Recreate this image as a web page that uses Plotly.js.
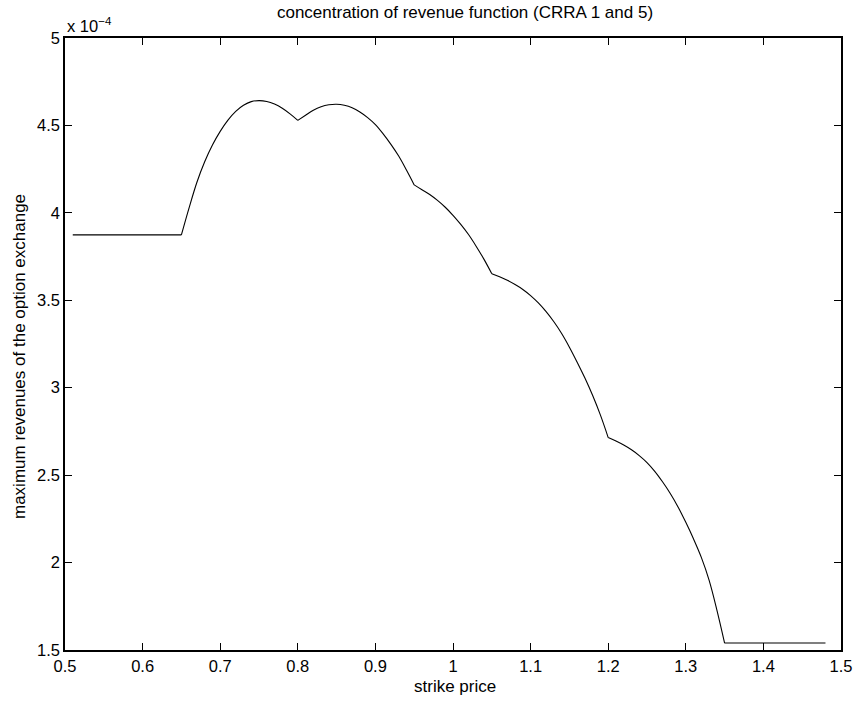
<!DOCTYPE html>
<html>
<head>
<meta charset="utf-8">
<script src="https://cdn.plot.ly/plotly-3.0.1.min.js"></script>
<style>html,body{margin:0;padding:0;background:#fff;}#chart{width:857px;height:701px;}</style>
</head>
<body>
<div id="chart"></div>
<script>
// strike price
const strikePrice = [
  0.51, 0.52, 0.53, 0.54, 0.55, 0.56, 0.57, 0.58, 0.59, 0.60,
  0.61, 0.62, 0.63, 0.64, 0.65, 0.66, 0.67, 0.68, 0.69, 0.70,
  0.71, 0.72, 0.73, 0.74, 0.75, 0.76, 0.77, 0.78, 0.79, 0.80,
  0.81, 0.82, 0.83, 0.84, 0.85, 0.86, 0.87, 0.88, 0.89, 0.90,
  0.91, 0.92, 0.93, 0.94, 0.95, 0.96, 0.97, 0.98, 0.99, 1.00,
  1.01, 1.02, 1.03, 1.04, 1.05, 1.06, 1.07, 1.08, 1.09, 1.10,
  1.11, 1.12, 1.13, 1.14, 1.15, 1.16, 1.17, 1.18, 1.19, 1.20,
  1.21, 1.22, 1.23, 1.24, 1.25, 1.26, 1.27, 1.28, 1.29, 1.30,
  1.31, 1.32, 1.33, 1.34, 1.35, 1.36, 1.37, 1.38, 1.39, 1.40,
  1.41, 1.42, 1.43, 1.44, 1.45, 1.46, 1.47, 1.48
];
// maximum revenues of the option exchange, in units of 1e-4
const maxRevenue = [
  3.874, 3.874, 3.874, 3.874, 3.874, 3.874, 3.874, 3.874, 3.874, 3.874,
  3.874, 3.874, 3.874, 3.874, 3.874, 4.030, 4.175, 4.292, 4.388, 4.466,
  4.530, 4.580, 4.615, 4.636, 4.642, 4.637, 4.622, 4.598, 4.566, 4.529,
  4.558, 4.587, 4.607, 4.618, 4.621, 4.615, 4.601, 4.577, 4.545, 4.505,
  4.452, 4.392, 4.325, 4.245, 4.160, 4.132, 4.105, 4.071, 4.032, 3.986,
  3.934, 3.876, 3.808, 3.734, 3.652, 3.634, 3.614, 3.590, 3.562, 3.527,
  3.485, 3.435, 3.377, 3.310, 3.232, 3.146, 3.055, 2.955, 2.843, 2.715,
  2.695, 2.672, 2.645, 2.612, 2.572, 2.522, 2.462, 2.395, 2.318, 2.230,
  2.135, 2.030, 1.900, 1.730, 1.540, 1.540, 1.540, 1.540, 1.540, 1.540,
  1.540, 1.540, 1.540, 1.540, 1.540, 1.540, 1.540, 1.540
];
// strike prices where the revenue function has a kink
const kinkPrices = [0.65, 0.80, 0.95, 1.05, 1.20, 1.35];

const titleText = 'concentration of revenue function (CRRA 1 and 5)';
const xTitle = 'strike price';
const yTitle = 'maximum revenues of the option exchange';
const exponentLabel = 'x 10<sup>\u22124</sup>';

const font = 'Liberation Sans, Arial, Helvetica, sans-serif';
const black = '#000000';

// split the curve at the kinks so each smooth piece stays smooth and kinks stay sharp
const cutIdx = [0].concat(kinkPrices.map(k => strikePrice.findIndex(p => Math.abs(p - k) < 1e-9)), [strikePrice.length - 1]);
const traces = [];
for (let s = 0; s < cutIdx.length - 1; s++) {
  const a = cutIdx[s], b = cutIdx[s + 1];
  traces.push({
    x: strikePrice.slice(a, b + 1),
    y: maxRevenue.slice(a, b + 1),
    type: 'scatter', mode: 'lines',
    line: {color: black, width: 1.1, shape: 'spline', smoothing: 1},
    hoverinfo: 'x+y',
    showlegend: false
  });
}

const axisCommon = {
  showline: true,
  linecolor: black,
  linewidth: 1.5,
  mirror: 'ticks',
  ticks: 'inside',
  ticklen: 7,
  tickwidth: 1,
  tickcolor: black,
  showgrid: false,
  zeroline: false,
  tickfont: {family: font, size: 16.5, color: black}
};

const layout = {
  width: 857,
  height: 701,
  paper_bgcolor: '#ffffff',
  plot_bgcolor: '#ffffff',
  showlegend: false,
  margin: {l: 65, r: 16, t: 38, b: 51},
  title: {
    text: titleText,
    font: {family: font, size: 17, color: black},
    xref: 'container', x: 465 / 857, xanchor: 'center',
    yref: 'container', y: 1 - 12 / 701, yanchor: 'middle'
  },
  xaxis: Object.assign({}, axisCommon, {
    range: [0.5, 1.5],
    dtick: 0.1,
    tick0: 0.5
  }),
  yaxis: Object.assign({}, axisCommon, {
    range: [1.5, 5],
    dtick: 0.5,
    tick0: 1.5
  }),
  annotations: [
    {
      text: exponentLabel,
      xref: 'paper', yref: 'paper',
      x: 0, y: 1,
      xanchor: 'left', yanchor: 'bottom',
      yshift: 1,
      showarrow: false,
      font: {family: font, size: 16.5, color: black}
    },
    {
      text: xTitle,
      xref: 'paper', yref: 'paper',
      x: (455 - 65) / 776, y: (650 - 686) / 612,
      xanchor: 'center', yanchor: 'middle',
      showarrow: false,
      font: {family: font, size: 17, color: black}
    },
    {
      text: yTitle,
      xref: 'paper', yref: 'paper',
      x: (20 - 65) / 776, y: (650 - 357) / 612,
      xanchor: 'center', yanchor: 'middle',
      textangle: -90,
      showarrow: false,
      font: {family: font, size: 17, color: black}
    }
  ]
};

Plotly.newPlot('chart', traces, layout, {displayModeBar: false});
</script>
</body>
</html>
